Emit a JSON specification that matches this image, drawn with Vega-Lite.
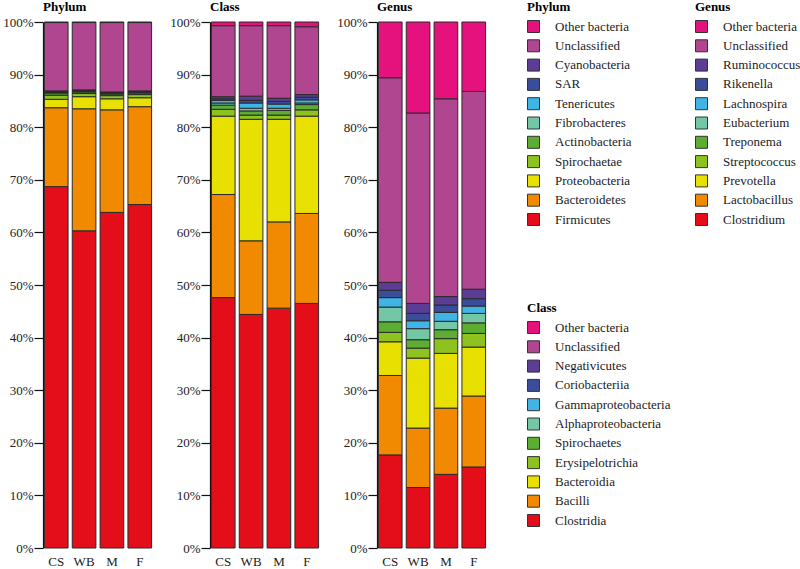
{
  "$schema": "https://vega.github.io/schema/vega-lite/v6.json",
  "padding": {"left": 2, "top": 0, "right": 0, "bottom": 0},
  "background": "white",
  "bounds": "flush",
  "spacing": 57,
  "datasets": {
    "phylum": [
      {"sample":"CS","taxon":"Firmicutes","value":68.7},{"sample":"CS","taxon":"Bacteroidetes","value":15.0},{"sample":"CS","taxon":"Proteobacteria","value":1.6},{"sample":"CS","taxon":"Spirochaetae","value":0.8},{"sample":"CS","taxon":"Actinobacteria","value":0.4},{"sample":"CS","taxon":"Fibrobacteres","value":0.1},{"sample":"CS","taxon":"Tenericutes","value":0.1},{"sample":"CS","taxon":"SAR","value":0.1},{"sample":"CS","taxon":"Cyanobacteria","value":0.1},{"sample":"CS","taxon":"Unclassified","value":13.0},{"sample":"CS","taxon":"Other bacteria","value":0.1},
      {"sample":"WB","taxon":"Firmicutes","value":60.3},{"sample":"WB","taxon":"Bacteroidetes","value":23.2},{"sample":"WB","taxon":"Proteobacteria","value":2.3},{"sample":"WB","taxon":"Spirochaetae","value":0.6},{"sample":"WB","taxon":"Actinobacteria","value":0.3},{"sample":"WB","taxon":"Fibrobacteres","value":0.1},{"sample":"WB","taxon":"Tenericutes","value":0.1},{"sample":"WB","taxon":"SAR","value":0.1},{"sample":"WB","taxon":"Cyanobacteria","value":0.1},{"sample":"WB","taxon":"Unclassified","value":12.8},{"sample":"WB","taxon":"Other bacteria","value":0.1},
      {"sample":"M","taxon":"Firmicutes","value":63.8},{"sample":"M","taxon":"Bacteroidetes","value":19.5},{"sample":"M","taxon":"Proteobacteria","value":2.1},{"sample":"M","taxon":"Spirochaetae","value":0.6},{"sample":"M","taxon":"Actinobacteria","value":0.3},{"sample":"M","taxon":"Fibrobacteres","value":0.1},{"sample":"M","taxon":"Tenericutes","value":0.1},{"sample":"M","taxon":"SAR","value":0.1},{"sample":"M","taxon":"Cyanobacteria","value":0.1},{"sample":"M","taxon":"Unclassified","value":13.2},{"sample":"M","taxon":"Other bacteria","value":0.1},
      {"sample":"F","taxon":"Firmicutes","value":65.3},{"sample":"F","taxon":"Bacteroidetes","value":18.6},{"sample":"F","taxon":"Proteobacteria","value":1.7},{"sample":"F","taxon":"Spirochaetae","value":0.6},{"sample":"F","taxon":"Actinobacteria","value":0.3},{"sample":"F","taxon":"Fibrobacteres","value":0.1},{"sample":"F","taxon":"Tenericutes","value":0.1},{"sample":"F","taxon":"SAR","value":0.1},{"sample":"F","taxon":"Cyanobacteria","value":0.1},{"sample":"F","taxon":"Unclassified","value":13.0},{"sample":"F","taxon":"Other bacteria","value":0.1}
    ],
    "class": [
      {"sample":"CS","taxon":"Clostridia","value":47.6},{"sample":"CS","taxon":"Bacilli","value":19.6},{"sample":"CS","taxon":"Bacteroidia","value":14.9},{"sample":"CS","taxon":"Erysipelotrichia","value":1.3},{"sample":"CS","taxon":"Spirochaetes","value":0.8},{"sample":"CS","taxon":"Alphaproteobacteria","value":0.4},{"sample":"CS","taxon":"Gammaproteobacteria","value":0.5},{"sample":"CS","taxon":"Coriobacteriia","value":0.3},{"sample":"CS","taxon":"Negativicutes","value":0.4},{"sample":"CS","taxon":"Unclassified","value":13.5},{"sample":"CS","taxon":"Other bacteria","value":0.7},
      {"sample":"WB","taxon":"Clostridia","value":44.4},{"sample":"WB","taxon":"Bacilli","value":14.0},{"sample":"WB","taxon":"Bacteroidia","value":23.1},{"sample":"WB","taxon":"Erysipelotrichia","value":0.8},{"sample":"WB","taxon":"Spirochaetes","value":0.8},{"sample":"WB","taxon":"Alphaproteobacteria","value":0.5},{"sample":"WB","taxon":"Gammaproteobacteria","value":1.0},{"sample":"WB","taxon":"Coriobacteriia","value":0.5},{"sample":"WB","taxon":"Negativicutes","value":0.8},{"sample":"WB","taxon":"Unclassified","value":13.4},{"sample":"WB","taxon":"Other bacteria","value":0.7},
      {"sample":"M","taxon":"Clostridia","value":45.6},{"sample":"M","taxon":"Bacilli","value":16.4},{"sample":"M","taxon":"Bacteroidia","value":19.5},{"sample":"M","taxon":"Erysipelotrichia","value":0.8},{"sample":"M","taxon":"Spirochaetes","value":0.9},{"sample":"M","taxon":"Alphaproteobacteria","value":0.4},{"sample":"M","taxon":"Gammaproteobacteria","value":0.8},{"sample":"M","taxon":"Coriobacteriia","value":0.5},{"sample":"M","taxon":"Negativicutes","value":0.6},{"sample":"M","taxon":"Unclassified","value":13.8},{"sample":"M","taxon":"Other bacteria","value":0.7},
      {"sample":"F","taxon":"Clostridia","value":46.5},{"sample":"F","taxon":"Bacilli","value":17.1},{"sample":"F","taxon":"Bacteroidia","value":18.5},{"sample":"F","taxon":"Erysipelotrichia","value":1.2},{"sample":"F","taxon":"Spirochaetes","value":1.0},{"sample":"F","taxon":"Alphaproteobacteria","value":0.3},{"sample":"F","taxon":"Gammaproteobacteria","value":0.6},{"sample":"F","taxon":"Coriobacteriia","value":0.5},{"sample":"F","taxon":"Negativicutes","value":0.5},{"sample":"F","taxon":"Unclassified","value":12.9},{"sample":"F","taxon":"Other bacteria","value":0.9}
    ],
    "genus": [
      {"sample":"CS","taxon":"Clostridium","value":17.7},{"sample":"CS","taxon":"Lactobacillus","value":15.1},{"sample":"CS","taxon":"Prevotella","value":6.4},{"sample":"CS","taxon":"Streptococcus","value":1.8},{"sample":"CS","taxon":"Treponema","value":2.0},{"sample":"CS","taxon":"Eubacterium","value":2.8},{"sample":"CS","taxon":"Lachnospira","value":1.8},{"sample":"CS","taxon":"Rikenella","value":1.4},{"sample":"CS","taxon":"Ruminococcus","value":1.5},{"sample":"CS","taxon":"Unclassified","value":38.9},{"sample":"CS","taxon":"Other bacteria","value":10.6},
      {"sample":"WB","taxon":"Clostridium","value":11.5},{"sample":"WB","taxon":"Lactobacillus","value":11.3},{"sample":"WB","taxon":"Prevotella","value":13.3},{"sample":"WB","taxon":"Streptococcus","value":1.9},{"sample":"WB","taxon":"Treponema","value":1.6},{"sample":"WB","taxon":"Eubacterium","value":2.1},{"sample":"WB","taxon":"Lachnospira","value":1.5},{"sample":"WB","taxon":"Rikenella","value":1.4},{"sample":"WB","taxon":"Ruminococcus","value":1.9},{"sample":"WB","taxon":"Unclassified","value":36.2},{"sample":"WB","taxon":"Other bacteria","value":17.3},
      {"sample":"M","taxon":"Clostridium","value":14.0},{"sample":"M","taxon":"Lactobacillus","value":12.6},{"sample":"M","taxon":"Prevotella","value":10.4},{"sample":"M","taxon":"Streptococcus","value":2.8},{"sample":"M","taxon":"Treponema","value":1.7},{"sample":"M","taxon":"Eubacterium","value":1.6},{"sample":"M","taxon":"Lachnospira","value":1.7},{"sample":"M","taxon":"Rikenella","value":1.4},{"sample":"M","taxon":"Ruminococcus","value":1.6},{"sample":"M","taxon":"Unclassified","value":37.6},{"sample":"M","taxon":"Other bacteria","value":14.6},
      {"sample":"F","taxon":"Clostridium","value":15.4},{"sample":"F","taxon":"Lactobacillus","value":13.5},{"sample":"F","taxon":"Prevotella","value":9.3},{"sample":"F","taxon":"Streptococcus","value":2.6},{"sample":"F","taxon":"Treponema","value":2.0},{"sample":"F","taxon":"Eubacterium","value":1.8},{"sample":"F","taxon":"Lachnospira","value":1.4},{"sample":"F","taxon":"Rikenella","value":1.4},{"sample":"F","taxon":"Ruminococcus","value":1.8},{"sample":"F","taxon":"Unclassified","value":37.6},{"sample":"F","taxon":"Other bacteria","value":13.2}
    ]
  },
  "hconcat": [
    {
      "data": {"name": "phylum"},
      "width": 110, "height": 526,
      "title": {"text": "Phylum", "offset": -12.5},
      "transform": [{"calculate": "indexof(['Firmicutes','Bacteroidetes','Proteobacteria','Spirochaetae','Actinobacteria','Fibrobacteres','Tenericutes','SAR','Cyanobacteria','Unclassified','Other bacteria'], datum.taxon)", "as": "k"}],
      "mark": {"type": "bar", "stroke": "#2a2a2a", "strokeWidth": 1},
      "encoding": {
        "x": {"field": "sample", "type": "nominal", "sort": ["CS","WB","M","F"], "scale": {"paddingInner": 0.15, "paddingOuter": 0.05}},
        "y": {"field": "value", "type": "quantitative", "stack": "zero", "scale": {"domain": [0, 100], "nice": false}, "axis": {"values": [0,10,20,30,40,50,60,70,80,90,100], "labelExpr": "datum.value + '%'"}},
        "order": {"field": "k", "type": "quantitative", "sort": "ascending"},
        "color": {"field": "taxon", "type": "nominal",
          "scale": {"domain": ["Other bacteria","Unclassified","Cyanobacteria","SAR","Tenericutes","Fibrobacteres","Actinobacteria","Spirochaetae","Proteobacteria","Bacteroidetes","Firmicutes"],
                    "range": ["#E5127D","#B0468F","#5B3D95","#3A4D9A","#41B4E6","#74C7A5","#5BAE32","#8DC21F","#E8E000","#F18A00","#E30E19"]},
          "legend": {"title": "Phylum", "orient": "none", "legendX": 484, "legendY": -21}}
      }
    },
    {
      "data": {"name": "class"},
      "width": 110, "height": 526,
      "title": {"text": "Class", "offset": 2},
      "transform": [{"calculate": "indexof(['Clostridia','Bacilli','Bacteroidia','Erysipelotrichia','Spirochaetes','Alphaproteobacteria','Gammaproteobacteria','Coriobacteriia','Negativicutes','Unclassified','Other bacteria'], datum.taxon)", "as": "k"}],
      "mark": {"type": "bar", "stroke": "#2a2a2a", "strokeWidth": 1},
      "encoding": {
        "x": {"field": "sample", "type": "nominal", "sort": ["CS","WB","M","F"], "scale": {"paddingInner": 0.15, "paddingOuter": 0.05}},
        "y": {"field": "value", "type": "quantitative", "stack": "zero", "scale": {"domain": [0, 100], "nice": false}, "axis": {"values": [0,10,20,30,40,50,60,70,80,90,100], "labelExpr": "datum.value + '%'"}},
        "order": {"field": "k", "type": "quantitative", "sort": "ascending"},
        "color": {"field": "taxon", "type": "nominal",
          "scale": {"domain": ["Other bacteria","Unclassified","Negativicutes","Coriobacteriia","Gammaproteobacteria","Alphaproteobacteria","Spirochaetes","Erysipelotrichia","Bacteroidia","Bacilli","Clostridia"],
                    "range": ["#E5127D","#B0468F","#5B3D95","#3A4D9A","#41B4E6","#74C7A5","#5BAE32","#8DC21F","#E8E000","#F18A00","#E30E19"]},
          "legend": {"title": "Class", "orient": "none", "legendX": 317, "legendY": 280}}
      }
    },
    {
      "data": {"name": "genus"},
      "width": 110, "height": 526,
      "title": {"text": "Genus", "offset": -12.5},
      "transform": [{"calculate": "indexof(['Clostridium','Lactobacillus','Prevotella','Streptococcus','Treponema','Eubacterium','Lachnospira','Rikenella','Ruminococcus','Unclassified','Other bacteria'], datum.taxon)", "as": "k"}],
      "mark": {"type": "bar", "stroke": "#2a2a2a", "strokeWidth": 1},
      "encoding": {
        "x": {"field": "sample", "type": "nominal", "sort": ["CS","WB","M","F"], "scale": {"paddingInner": 0.15, "paddingOuter": 0.05}},
        "y": {"field": "value", "type": "quantitative", "stack": "zero", "scale": {"domain": [0, 100], "nice": false}, "axis": {"values": [0,10,20,30,40,50,60,70,80,90,100], "labelExpr": "datum.value + '%'"}},
        "order": {"field": "k", "type": "quantitative", "sort": "ascending"},
        "color": {"field": "taxon", "type": "nominal",
          "scale": {"domain": ["Other bacteria","Unclassified","Ruminococcus","Rikenella","Lachnospira","Eubacterium","Treponema","Streptococcus","Prevotella","Lactobacillus","Clostridium"],
                    "range": ["#E5127D","#B0468F","#5B3D95","#3A4D9A","#41B4E6","#74C7A5","#5BAE32","#8DC21F","#E8E000","#F18A00","#E30E19"]},
          "legend": {"title": "Genus", "orient": "none", "legendX": 318, "legendY": -21}}
      }
    }
  ],
  "resolve": {"scale": {"color": "independent", "y": "independent", "x": "independent"}, "legend": {"color": "independent"}},
  "config": {
    "font": "Liberation Serif",
    "view": {"stroke": null},
    "title": {"anchor": "start", "frame": "group", "fontSize": 13, "fontWeight": "bold", "font": "Liberation Serif", "color": "#000"},
    "axisY": {"title": null, "grid": false, "domainColor": "#111", "domainWidth": 1.2, "tickColor": "#111", "tickWidth": 1.2, "tickSize": 9, "labelPadding": 1, "labelFontSize": 13, "labelFont": "Liberation Serif", "labelColor": "#222"},
    "axisX": {"title": null, "domain": false, "ticks": false, "labelPadding": 7, "labelAngle": 0, "labelFontSize": 13, "labelFont": "Liberation Serif", "labelColor": "#222"},
    "legend": {"padding": 0, "titleFont": "Liberation Serif", "titleFontSize": 13, "titleFontWeight": "bold", "titleColor": "#000", "titlePadding": 6, "labelFont": "Liberation Serif", "labelFontSize": 13, "labelColor": "#222", "labelOffset": 15, "symbolType": "square", "symbolSize": 144, "symbolStrokeColor": "#333", "symbolStrokeWidth": 1, "symbolOpacity": 1, "rowPadding": 2.3}
  }
}
